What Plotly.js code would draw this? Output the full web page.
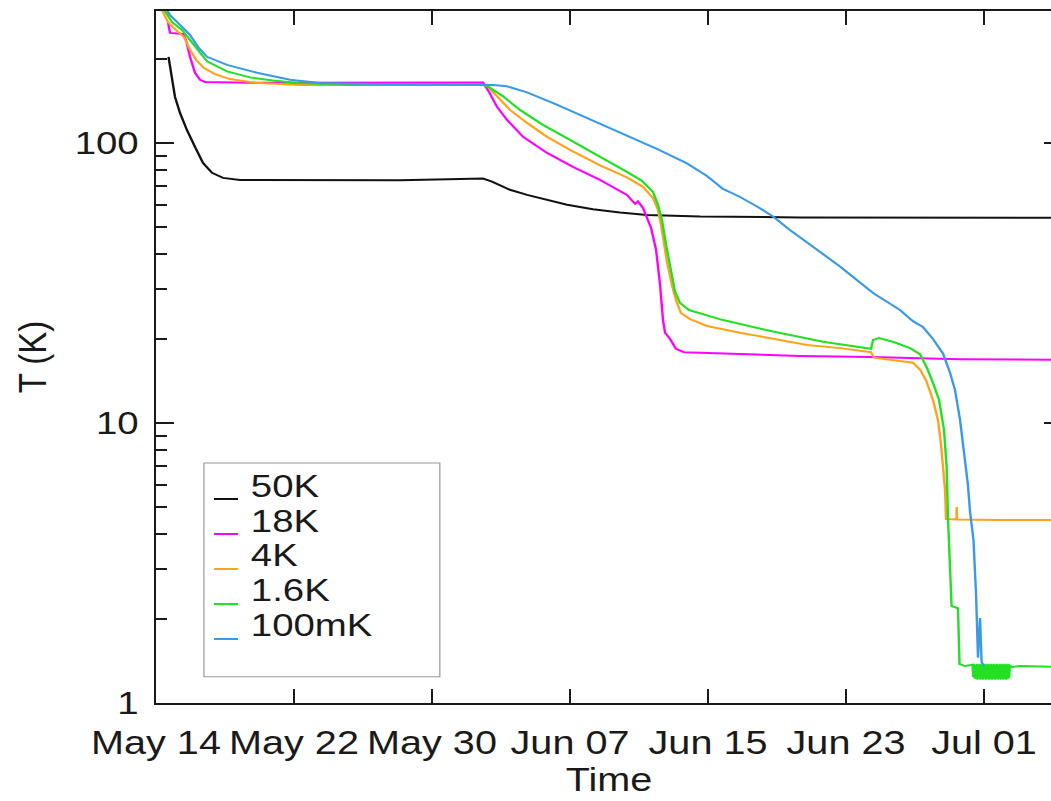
<!DOCTYPE html>
<html>
<head>
<meta charset="utf-8">
<script src="https://cdn.plot.ly/plotly-3.0.1.min.js"></script>
<style>
html,body{margin:0;padding:0;background:#fff;overflow:hidden;}
#wrap{width:886px;height:801px;transform:scaleX(1.2);transform-origin:0 0;}
#chart{width:886px;height:801px;}
</style>
</head>
<body>
<div id="wrap"><div id="chart"></div></div>
<script>
// ---- data ----
const seriesNames = ['50K', '18K', '4K', '1.6K', '100mK'];
const seriesColors = ['#111111', '#ff00ff', '#ffa31a', '#22e022', '#3a9ae8'];

const t50K = ['2009-05-14 17:24','2009-05-14 22:16','2009-05-15 02:25','2009-05-15 09:23','2009-05-15 19:08','2009-05-16 06:16','2009-05-16 17:24','2009-05-17 05:54','2009-05-17 21:13','2009-05-18 20:53','2009-05-22 08:24','2009-05-28 03:22','2009-05-31 14:53','2009-06-01 23:02','2009-06-02 11:31','2009-06-03 12:29','2009-06-04 12:14','2009-06-05 16:05','2009-06-06 19:55','2009-06-08 07:55','2009-06-09 21:36','2009-06-11 11:02','2009-06-12 23:17','2009-06-14 12:58','2009-06-20 07:55','2009-07-05 12:30'];
const T50K = [203,172,146,128,111,96.8,84.8,78.2,75.0,73.7,73.7,73.5,74.3,74.6,72.7,68.0,65.2,62.6,60.1,58.0,56.4,55.3,54.9,54.6,54.2,54.0];

const t18K = ['2009-05-14 16:42','2009-05-14 19:29','2009-05-15 13:34','2009-05-15 17:44','2009-05-15 23:18','2009-05-16 06:16','2009-05-16 13:13','2009-05-16 20:11','2009-05-19 10:47','2009-05-28 03:22','2009-06-01 23:02','2009-06-02 07:12','2009-06-02 18:29','2009-06-03 08:24','2009-06-04 06:43','2009-06-05 16:05','2009-06-07 04:05','2009-06-08 17:46','2009-06-10 07:12','2009-06-10 18:29','2009-06-10 22:34','2009-06-11 05:31','2009-06-11 11:02','2009-06-11 16:48','2009-06-11 23:46','2009-06-12 05:17','2009-06-12 09:22','2009-06-12 12:14','2009-06-12 19:12','2009-06-13 03:22','2009-06-13 14:38','2009-06-14 12:58','2009-06-20 07:55','2009-06-24 09:22','2009-06-29 14:38','2009-07-05 12:30'];
const T18K = [270,247,245,233,203,178,168,165,164,164,164.2,152.1,134.5,120.8,105.1,92.1,82.1,73.8,65.2,60.6,61.8,58.6,54.4,49.7,41.5,31.1,23.3,21.0,19.95,18.4,17.9,17.8,17.35,17.2,16.9,16.8];

const t4K = ['2009-05-14 06:58','2009-05-14 16:42','2009-05-15 03:49','2009-05-15 14:57','2009-05-15 23:18','2009-05-16 07:39','2009-05-16 18:47','2009-05-17 10:05','2009-05-18 06:58','2009-05-19 17:46','2009-05-22 08:24','2009-06-01 23:02','2009-06-02 04:34','2009-06-02 18:29','2009-06-03 12:29','2009-06-04 12:14','2009-06-05 16:05','2009-06-07 00:00','2009-06-08 17:46','2009-06-10 07:12','2009-06-11 05:31','2009-06-11 19:26','2009-06-12 02:24','2009-06-12 06:43','2009-06-12 10:48','2009-06-12 14:53','2009-06-12 21:50','2009-06-13 03:22','2009-06-13 10:19','2009-06-13 23:02','2009-06-14 22:34','2009-06-16 20:38','2009-06-18 18:29','2009-06-20 17:46','2009-06-22 15:36','2009-06-24 10:48','2009-06-24 14:53','2009-06-26 21:07','2009-06-27 06:58','2009-06-27 15:22','2009-06-28 00:58','2009-06-28 07:55','2009-06-28 12:14','2009-06-28 14:53','2009-06-28 17:46','2009-06-28 19:12','2009-06-29 09:36','2009-06-29 10:00','2009-06-29 10:24','2009-07-01 22:19','2009-07-05 12:30'];
const T4K = [303,270,253,239,215,198,185,176,169,164,161,161,159.8,146,131.2,117.9,105.1,94.4,83.1,75.3,69.7,63.6,57.7,50.9,43.2,37.6,31.1,27.5,24.7,23.5,22.2,21.0,20.0,19.0,18.5,17.9,17.1,16.4,15.5,14.2,12.1,10.25,8.35,7.02,5.77,4.54,4.52,5.01,4.52,4.50,4.50];

const t1p6K = ['2009-05-14 09:44','2009-05-14 22:16','2009-05-15 12:10','2009-05-15 23:18','2009-05-16 09:03','2009-05-16 22:58','2009-05-18 02:47','2009-05-19 10:47','2009-05-20 18:47','2009-05-22 04:10','2009-05-25 06:00','2009-06-01 23:02','2009-06-02 04:34','2009-06-03 02:53','2009-06-04 02:24','2009-06-05 10:19','2009-06-07 00:00','2009-06-08 17:46','2009-06-10 07:12','2009-06-11 04:05','2009-06-11 19:26','2009-06-12 02:24','2009-06-12 07:55','2009-06-12 13:41','2009-06-12 19:12','2009-06-13 02:10','2009-06-13 09:07','2009-06-13 21:36','2009-06-15 20:53','2009-06-18 18:29','2009-06-21 16:05','2009-06-24 10:48','2009-06-24 13:41','2009-06-24 21:50','2009-06-25 17:17','2009-06-26 17:02','2009-06-27 06:58','2009-06-27 16:48','2009-06-28 00:58','2009-06-28 09:22','2009-06-28 16:19','2009-06-28 19:55','2009-06-28 21:50','2009-06-29 00:43','2009-06-29 02:53','2009-06-29 11:46','2009-06-29 13:55','2009-06-29 21:36','2009-06-30 04:34',
 '2009-06-30 08:00','2009-06-30 09:00','2009-06-30 10:00','2009-06-30 11:00','2009-06-30 12:00','2009-06-30 13:00','2009-06-30 14:00','2009-06-30 15:00','2009-06-30 16:00','2009-06-30 17:00','2009-06-30 18:00','2009-06-30 19:00','2009-06-30 20:00','2009-06-30 21:00','2009-06-30 22:00','2009-06-30 23:00',
 '2009-07-01 00:00','2009-07-01 01:00','2009-07-01 02:00','2009-07-01 03:00','2009-07-01 04:00','2009-07-01 05:00','2009-07-01 06:00','2009-07-01 07:00','2009-07-01 08:00','2009-07-01 09:00','2009-07-01 10:00','2009-07-01 11:00','2009-07-01 12:00','2009-07-01 13:00','2009-07-01 14:00','2009-07-01 15:00','2009-07-01 16:00','2009-07-01 17:00','2009-07-01 18:00','2009-07-01 19:00','2009-07-01 20:00','2009-07-01 21:00','2009-07-01 22:00','2009-07-01 23:00',
 '2009-07-02 00:00','2009-07-02 01:00','2009-07-02 02:00','2009-07-02 03:00','2009-07-02 04:00','2009-07-02 05:00','2009-07-02 06:00','2009-07-02 07:00','2009-07-02 08:00','2009-07-02 09:00','2009-07-02 10:00','2009-07-02 11:00','2009-07-02 12:00',
 '2009-07-02 14:53','2009-07-03 02:10','2009-07-05 12:30'];
const T1p6K = [303,270,253,233,215,195.5,180.0,171.4,167.2,163.8,161,161,159.8,146.6,131.2,116.0,102.5,89.5,78.8,73.2,66.8,60.1,53.1,43.2,35.8,29.4,26.8,25.3,23.3,21.2,19.5,18.4,19.8,20.1,19.5,18.5,17.6,15.7,13.9,12.1,9.44,7.02,4.62,3.11,2.22,2.18,1.378,1.355,1.365,
 1.37,1.24,1.38,1.22,1.37,1.22,1.38,1.21,1.37,1.23,1.38,1.21,1.37,1.22,1.38,1.21,
 1.37,1.22,1.38,1.21,1.37,1.22,1.38,1.21,1.37,1.22,1.38,1.21,1.37,1.22,1.38,1.21,1.37,1.22,1.38,1.21,1.37,1.22,1.38,1.21,
 1.37,1.22,1.38,1.21,1.37,1.22,1.38,1.21,1.37,1.22,1.38,1.23,1.36,
 1.345,1.355,1.345];

const t100mK = ['2009-05-14 11:08','2009-05-14 19:29','2009-05-15 09:23','2009-05-15 23:18','2009-05-16 10:26','2009-05-16 22:58','2009-05-18 02:47','2009-05-19 20:31','2009-05-21 18:26','2009-05-23 12:10','2009-05-28 03:22','2009-06-02 12:58','2009-06-03 08:24','2009-06-04 12:14','2009-06-06 03:07','2009-06-07 13:55','2009-06-09 03:22','2009-06-10 15:36','2009-06-12 02:24','2009-06-13 18:43','2009-06-14 22:34','2009-06-15 20:53','2009-06-16 20:38','2009-06-17 20:10','2009-06-18 18:29','2009-06-19 18:00','2009-06-21 02:10','2009-06-22 15:36','2009-06-24 13:41','2009-06-26 03:07','2009-06-26 21:07','2009-06-27 11:02','2009-06-28 00:58','2009-06-28 14:53','2009-06-29 00:43','2009-06-29 07:41','2009-06-29 14:38','2009-06-29 20:10','2009-06-30 01:41','2009-06-30 04:34','2009-06-30 09:22','2009-06-30 12:58','2009-06-30 14:10','2009-06-30 15:36','2009-06-30 18:29','2009-06-30 20:38','2009-07-01 00:00'];
const T100mK = [311,286,264,243,220,203,190,178,168,163.8,161.8,161,159.2,151.5,137.9,125.9,114.0,104.2,94.8,84.5,76.2,68.5,64.1,59.3,54.6,48.9,42.7,36.2,29.1,25.3,23.1,22.0,19.95,17.7,15.1,13.1,10.25,8.01,6.0,4.81,3.82,2.43,1.98,1.45,2.01,1.40,1.355];

const yTickVals = [1, 10, 100];
const yTickText = ['1', '10', '100'];
const yMinorVals = [2,3,4,5,6,7,8,9,20,30,40,50,60,70,80,90,200];
const xStart = '2009-05-14 00:00';
const xEnd = '2009-07-05 12:30';

// ---- build ----
const xs = [t50K, t18K, t4K, t1p6K, t100mK];
const ys = [T50K, T18K, T4K, T1p6K, T100mK];
const traces = seriesNames.map((n, i) => ({
  type: 'scatter', mode: 'lines', name: n, x: xs[i], y: ys[i],
  line: {color: seriesColors[i], width: 2}
}));

const FONT = 'Liberation Sans, Arial, Helvetica, sans-serif';
const ink = '#1a1a1a';

// legend drawn as box + samples + labels (paper coordinates)
const shapes = [{type:'rect', xref:'paper', yref:'paper', x0:0.0529, x1:0.3133, y0:0.0380, y1:0.3468,
  line:{color:'#999', width:1}, fillcolor:'rgba(0,0,0,0)'}];
const annotations = [];
const labY = [0.3129, 0.2630, 0.2132, 0.1633, 0.1134];
const smpY = [0.2948, 0.2442, 0.1936, 0.1431, 0.0925];
seriesNames.forEach((n, i) => {
  shapes.push({type:'line', xref:'paper', yref:'paper', x0:0.0640, x1:0.0905, y0:smpY[i], y1:smpY[i],
    line:{color:seriesColors[i], width:2}});
  annotations.push({xref:'paper', yref:'paper', x:0.1026, y:labY[i], xanchor:'left', yanchor:'middle',
    text:n, showarrow:false, font:{family:FONT, size:32, color:ink}});
});

const layout = {
  width: 886, height: 801,
  margin: {l:130, r:1, t:11, b:98},
  paper_bgcolor:'#fff', plot_bgcolor:'#fff',
  showlegend: false,
  font: {family: FONT, color: ink, size: 33},
  xaxis: {
    type:'date', range:[xStart, xEnd],
    tick0:'2009-05-14', dtick: 8*86400000, tickformat:'%b %d', tickangle:0,
    ticks:'inside', ticklen:14, tickwidth:2, tickcolor:ink,
    showline:true, linewidth:2, linecolor:ink, mirror:'ticks',
    showgrid:false, zeroline:false,
    tickfont:{family:FONT, size:33, color:ink},
    ticklabelstandoff: 9,
    title:{text:'Time', font:{family:FONT, size:33, color:ink}, standoff:6}
  },
  yaxis: {
    type:'log', range:[0, 2.471],
    tickmode:'array', tickvals:yTickVals, ticktext:yTickText,
    ticks:'inside', ticklen:15, tickwidth:2, tickcolor:ink,
    minor:{tickmode:'array', tickvals:yMinorVals, ticks:'inside', ticklen:9, tickwidth:2, tickcolor:ink, showgrid:false},
    showline:true, linewidth:2, linecolor:ink, mirror:'ticks',
    showgrid:false, zeroline:false,
    tickfont:{family:FONT, size:32, color:ink},
    ticklabelstandoff: 6,
    title:{text:'T (K)', font:{family:FONT, size:33, color:ink}, standoff:13}
  },
  shapes: shapes,
  annotations: annotations
};

Plotly.newPlot('chart', traces, layout, {displayModeBar:false, staticPlot:true});
</script>
</body>
</html>
